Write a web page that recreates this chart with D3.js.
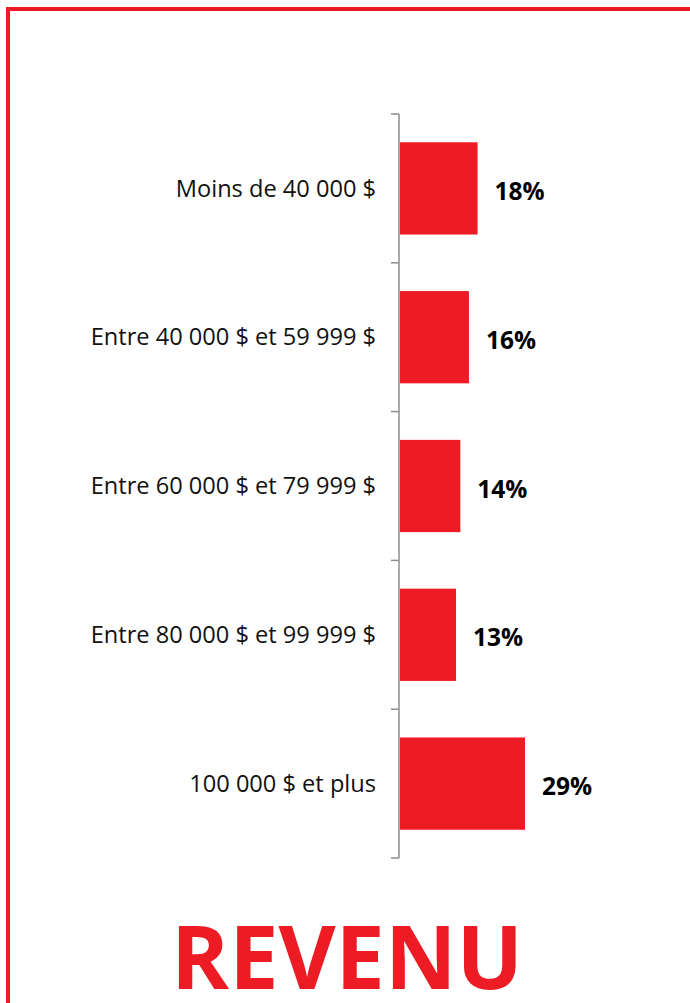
<!DOCTYPE html>
<html lang="fr">
<head>
<meta charset="utf-8">
<title>Revenu</title>
<script src="https://cdn.jsdelivr.net/npm/d3@7"></script>
<style>
  body { margin: 0; background: #fff; }
  text { font-family: "Open Sans", "Noto Sans", sans-serif; }
</style>
</head>
<body>
<script>
// categories and values (percent)
var categories = ["Moins de 40 000 $", "Entre 40 000 $ et 59 999 $", "Entre 60 000 $ et 79 999 $", "Entre 80 000 $ et 99 999 $", "100 000 $ et plus"];
var values = [18, 16, 14, 13, 29];
var valueLabels = ["18%", "16%", "14%", "13%", "29%"];

var w = 690, h = 1003;
var red = "#ED1C24";

var svg = d3.select("body").append("svg")
  .attr("width", w)
  .attr("height", h);

// frame
svg.append("rect")
  .attr("x", 8).attr("y", 9)
  .attr("width", w + 20).attr("height", h + 20)
  .attr("fill", "none")
  .attr("stroke", red)
  .attr("stroke-width", 4);

var x0 = 399;
var y = d3.scaleBand()
  .domain(categories)
  .range([114, 858])
  .paddingInner(0.38)
  .paddingOuter(0.19);

var x = d3.scaleLinear()
  .domain([0, 29])
  .range([0, 125]);

// bars
svg.selectAll("rect.bar")
  .data(values)
  .enter().append("rect")
  .attr("class", "bar")
  .attr("x", x0 + 1)
  .attr("y", function(d, i) { return y(categories[i]); })
  .attr("width", function(d) { return x(d); })
  .attr("height", y.bandwidth())
  .attr("fill", red);

// axis line and ticks
var tickYs = d3.range(categories.length + 1).map(function(i) { return 114 + i * (744 / categories.length); });
svg.append("line")
  .attr("x1", x0).attr("x2", x0)
  .attr("y1", 114).attr("y2", 858)
  .attr("stroke", "#8c8c8c").attr("stroke-width", 1.5);
svg.selectAll("line.tick")
  .data(tickYs)
  .enter().append("line")
  .attr("class", "tick")
  .attr("x1", x0 - 8).attr("x2", x0)
  .attr("y1", function(d) { return d; }).attr("y2", function(d) { return d; })
  .attr("stroke", "#8c8c8c").attr("stroke-width", 1.5);

// category labels
svg.selectAll("text.cat")
  .data(categories)
  .enter().append("text")
  .attr("class", "cat")
  .attr("x", 376)
  .attr("y", function(d) { return y(d) + y.bandwidth() / 2; })
  .attr("dy", "0.35em")
  .attr("text-anchor", "end")
  .attr("font-size", 23.6)
  .attr("fill", "#111")
  .text(function(d) { return d; });

// value labels
svg.selectAll("text.val")
  .data(values)
  .enter().append("text")
  .attr("class", "val")
  .attr("x", function(d) { return x0 + x(d) + 18; })
  .attr("y", function(d, i) { return y(categories[i]) + y.bandwidth() / 2 + 3; })
  .attr("dy", "0.35em")
  .attr("font-size", 24.5)
  .attr("font-weight", "bold")
  .attr("fill", "#000")
  .text(function(d, i) { return valueLabels[i]; });

// title
svg.append("text")
  .attr("x", 347)
  .attr("y", 989)
  .attr("text-anchor", "middle")
  .attr("font-size", 88)
  .attr("font-weight", "bold")
  .attr("fill", red)
  .text("REVENU");
</script>
</body>
</html>
